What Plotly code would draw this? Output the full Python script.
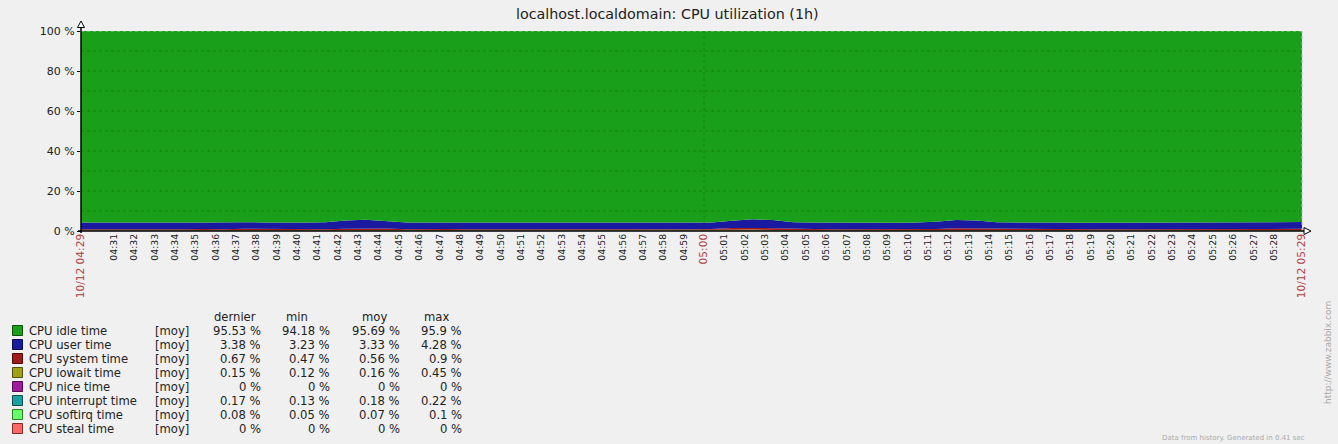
import pandas as pd
import plotly.graph_objects as go

# ---------------- data (percent, one sample per minute from 04:29:23) ----------------
START = "2014-10-12 04:29:23"
N_POINTS = 61

SERIES_NAMES = ["CPU idle time", "CPU user time", "CPU system time", "CPU iowait time",
                "CPU nice time", "CPU interrupt time", "CPU softirq time", "CPU steal time"]
SERIES_COLORS = ["#1A9F1A", "#1A1AA0", "#A01A1A", "#A0A01A",
                 "#A01AA0", "#1AA0A0", "#66FF66", "#FF6666"]
SERIES_BORDERS = ["#0A4F0A", "#0A0A50", "#500A0A", "#50500A",
                  "#500A50", "#0A5050", "#2A802A", "#802A2A"]

IDLE = [95.80, 95.86, 95.78, 95.80, 95.87, 95.79, 95.71, 95.83, 95.67, 95.69,
        95.83, 95.70, 95.67, 94.78, 94.43, 95.23, 95.79, 95.72, 95.73, 95.82,
        95.83, 95.85, 95.83, 95.86, 95.80, 95.81, 95.80, 95.83, 95.83, 95.79,
        95.84, 95.70, 94.91, 94.18, 94.56, 95.57, 95.70, 95.81, 95.80, 95.83,
        95.88, 95.70, 95.41, 94.44, 94.71, 95.68, 95.83, 95.84, 95.77, 95.84,
        95.83, 95.79, 95.81, 95.81, 95.84, 95.79, 95.80, 95.84, 95.78, 95.66,
        95.55]
USER = [3.30, 3.28, 3.31, 3.29, 3.27, 3.30, 3.24, 3.29, 3.23, 3.24,
        3.30, 3.25, 3.45, 4.05, 4.20, 3.55, 3.30, 3.24, 3.25, 3.28,
        3.30, 3.27, 3.29, 3.31, 3.30, 3.28, 3.32, 3.29, 3.30, 3.31,
        3.28, 3.25, 3.60, 4.28, 3.95, 3.30, 3.24, 3.28, 3.31, 3.29,
        3.23, 3.25, 3.55, 4.20, 4.00, 3.40, 3.30, 3.29, 3.31, 3.28,
        3.30, 3.32, 3.29, 3.30, 3.28, 3.31, 3.30, 3.29, 3.32, 3.30,
        3.38]
SYSTEM = [0.50, 0.49, 0.52, 0.50, 0.48, 0.51, 0.65, 0.50, 0.70, 0.68,
          0.50, 0.65, 0.50, 0.70, 0.85, 0.80, 0.52, 0.68, 0.62, 0.50,
          0.49, 0.51, 0.50, 0.48, 0.50, 0.52, 0.49, 0.50, 0.47, 0.51,
          0.50, 0.65, 0.90, 0.85, 0.75, 0.70, 0.68, 0.52, 0.50, 0.49,
          0.51, 0.65, 0.60, 0.85, 0.82, 0.52, 0.50, 0.49, 0.51, 0.50,
          0.48, 0.50, 0.52, 0.49, 0.50, 0.51, 0.50, 0.49, 0.52, 0.65,
          0.67]
IOWAIT = [0.15, 0.14, 0.13, 0.15, 0.14, 0.16, 0.14, 0.13, 0.15, 0.14,
          0.12, 0.15, 0.14, 0.18, 0.20, 0.15, 0.14, 0.13, 0.15, 0.14,
          0.15, 0.13, 0.14, 0.15, 0.14, 0.13, 0.15, 0.14, 0.15, 0.14,
          0.13, 0.16, 0.30, 0.40, 0.45, 0.18, 0.15, 0.14, 0.13, 0.15,
          0.14, 0.15, 0.16, 0.20, 0.18, 0.15, 0.14, 0.13, 0.15, 0.14,
          0.15, 0.14, 0.13, 0.15, 0.14, 0.15, 0.14, 0.13, 0.15, 0.14,
          0.15]
NICE = [0.0, 0.0, 0.0, 0.0, 0.0, 0.0, 0.0, 0.0, 0.0, 0.0,
        0.0, 0.0, 0.0, 0.0, 0.0, 0.0, 0.0, 0.0, 0.0, 0.0,
        0.0, 0.0, 0.0, 0.0, 0.0, 0.0, 0.0, 0.0, 0.0, 0.0,
        0.0, 0.0, 0.0, 0.0, 0.0, 0.0, 0.0, 0.0, 0.0, 0.0,
        0.0, 0.0, 0.0, 0.0, 0.0, 0.0, 0.0, 0.0, 0.0, 0.0,
        0.0, 0.0, 0.0, 0.0, 0.0, 0.0, 0.0, 0.0, 0.0, 0.0,
        0.0]
INTERRUPT = [0.18, 0.17, 0.19, 0.18, 0.17, 0.18, 0.19, 0.18, 0.17, 0.18,
             0.19, 0.18, 0.17, 0.20, 0.22, 0.19, 0.18, 0.17, 0.18, 0.19,
             0.18, 0.17, 0.18, 0.13, 0.18, 0.19, 0.18, 0.17, 0.18, 0.19,
             0.18, 0.17, 0.20, 0.20, 0.20, 0.18, 0.17, 0.18, 0.19, 0.18,
             0.17, 0.18, 0.20, 0.21, 0.20, 0.18, 0.17, 0.18, 0.19, 0.18,
             0.17, 0.18, 0.19, 0.18, 0.17, 0.18, 0.19, 0.18, 0.17, 0.18,
             0.17]
SOFTIRQ = [0.07, 0.06, 0.07, 0.08, 0.07, 0.06, 0.07, 0.07, 0.08, 0.07,
           0.06, 0.07, 0.07, 0.09, 0.10, 0.08, 0.07, 0.06, 0.07, 0.07,
           0.05, 0.07, 0.06, 0.07, 0.08, 0.07, 0.06, 0.07, 0.07, 0.06,
           0.07, 0.07, 0.09, 0.09, 0.09, 0.07, 0.06, 0.07, 0.07, 0.06,
           0.07, 0.07, 0.08, 0.10, 0.09, 0.07, 0.06, 0.07, 0.07, 0.06,
           0.07, 0.07, 0.06, 0.07, 0.07, 0.06, 0.07, 0.07, 0.06, 0.07,
           0.08]
STEAL = [0.0, 0.0, 0.0, 0.0, 0.0, 0.0, 0.0, 0.0, 0.0, 0.0,
         0.0, 0.0, 0.0, 0.0, 0.0, 0.0, 0.0, 0.0, 0.0, 0.0,
         0.0, 0.0, 0.0, 0.0, 0.0, 0.0, 0.0, 0.0, 0.0, 0.0,
         0.0, 0.0, 0.0, 0.0, 0.0, 0.0, 0.0, 0.0, 0.0, 0.0,
         0.0, 0.0, 0.0, 0.0, 0.0, 0.0, 0.0, 0.0, 0.0, 0.0,
         0.0, 0.0, 0.0, 0.0, 0.0, 0.0, 0.0, 0.0, 0.0, 0.0,
         0.0]

SERIES_VALUES = [IDLE, USER, SYSTEM, IOWAIT, NICE, INTERRUPT, SOFTIRQ, STEAL]

# legend table values (as displayed)
COL_HEADERS = ["dernier", "min", "moy", "max"]
LAST = ["95.53 %", "3.38 %", "0.67 %", "0.15 %", "0 %", "0.17 %", "0.08 %", "0 %"]
MINS = ["94.18 %", "3.23 %", "0.47 %", "0.12 %", "0 %", "0.13 %", "0.05 %", "0 %"]
AVGS = ["95.69 %", "3.33 %", "0.56 %", "0.16 %", "0 %", "0.18 %", "0.07 %", "0 %"]
MAXS = ["95.9 %", "4.28 %", "0.9 %", "0.45 %", "0 %", "0.22 %", "0.1 %", "0 %"]

Y_TICKS = [0, 20, 40, 60, 80, 100]
TITLE = "localhost.localdomain: CPU utilization (1h)"

# ---------------- time axis ----------------
TIMES = pd.date_range(START, periods=N_POINTS, freq="1min")
TIME_STR = [t.strftime("%Y-%m-%d %H:%M:%S") for t in TIMES]

RED = "#B03C3C"
RED_STYLE = f"color:{RED};font-size:10.6px"
minute_ticks = pd.date_range("2014-10-12 04:31:00", "2014-10-12 05:28:00", freq="1min")
tickvals = [TIME_STR[0]] + [t.strftime("%Y-%m-%d %H:%M:%S") for t in minute_ticks] + [TIME_STR[-1]]
ticktext = [f'<span style="{RED_STYLE}">10/12 {TIMES[0].strftime("%H:%M")}</span>']
for t in minute_ticks:
    lab = t.strftime("%H:%M")
    if t.minute == 0:
        ticktext.append(f'<span style="{RED_STYLE}">{lab}</span>')
    else:
        ticktext.append(lab)
ticktext.append(f'<span style="{RED_STYLE}">10/12 {TIMES[-1].strftime("%H:%M")}</span>')

# ---------------- geometry helpers (pixel -> paper) ----------------
W, H = 1338, 444
L, R, T, B = 81, 1302, 31, 231


def px(x):
    return (x - L) / (R - L)


def py(y):
    return (B - y) / (B - T)


FONT = "DejaVu Sans"
TXT = "#222222"
GRID = "rgba(0,50,0,0.22)"
LEG_SIZE = 11.6

fig = go.Figure()

# stacked areas: bottom-up order is reversed legend order
for name, vals, col in reversed(list(zip(SERIES_NAMES, SERIES_VALUES, SERIES_COLORS))):
    fig.add_trace(go.Scatter(
        x=TIME_STR, y=vals, name=name, stackgroup="cpu", mode="lines",
        line=dict(width=0, color=col), fillcolor=col,
        showlegend=False, hoverinfo="skip",
    ))

shapes = []
# horizontal dotted grid every 10 %
for g in range(10, 100, 10):
    shapes.append(dict(type="line", xref="paper", yref="y", x0=0, x1=1, y0=g, y1=g,
                       line=dict(color=GRID, width=1, dash="dot"), layer="above"))
# top border and right border (grey dotted)
shapes.append(dict(type="line", xref="paper", yref="y", x0=0, x1=1, y0=100, y1=100,
                   line=dict(color="#b8b8b8", width=1, dash="dot"), layer="above"))
shapes.append(dict(type="line", xref="paper", yref="paper", x0=1, x1=1, y0=0, y1=1,
                   line=dict(color="#b8b8b8", width=1, dash="dot"), layer="above"))
# vertical dotted line at 05:00
shapes.append(dict(type="line", xref="x", yref="paper", x0="2014-10-12 05:00:00", x1="2014-10-12 05:00:00",
                   y0=0, y1=1, line=dict(color=GRID, width=1, dash="dot"), layer="above"))
# axis lines
shapes.append(dict(type="line", xref="paper", yref="paper", x0=0, x1=0, y0=py(233), y1=py(25),
                   line=dict(color="black", width=1.5), layer="above"))
shapes.append(dict(type="line", xref="paper", yref="paper", x0=px(78), x1=px(1305), y0=0, y1=0,
                   line=dict(color="black", width=1.5), layer="above"))
# arrows
shapes.append(dict(type="path", xref="paper", yref="paper",
                   path=f"M {px(77.5)} {py(27.5)} L {px(84.5)} {py(27.5)} L {px(81)} {py(21)} Z",
                   fillcolor="white", line=dict(color="black", width=1), layer="above"))
shapes.append(dict(type="path", xref="paper", yref="paper",
                   path=f"M {px(1304)} {py(227.5)} L {px(1304)} {py(234.5)} L {px(1311)} {py(231)} Z",
                   fillcolor="white", line=dict(color="black", width=1), layer="above"))

annotations = []
# title
annotations.append(dict(text=TITLE, xref="paper", yref="paper", x=px(667), y=py(14),
                        xanchor="center", yanchor="middle", showarrow=False,
                        font=dict(family=FONT, size=14.3, color=TXT)))

# legend table
ROW0, ROW_STEP = 330.5, 14.0
HEADER_Y = 316.5
for hdr, cx in zip(COL_HEADERS, [235, 297, 374, 436]):
    annotations.append(dict(text=hdr, xref="paper", yref="paper", x=px(cx), y=py(HEADER_Y),
                            xanchor="center", yanchor="middle", showarrow=False,
                            font=dict(family=FONT, size=LEG_SIZE, color=TXT)))
for i, name in enumerate(SERIES_NAMES):
    yy = ROW0 + i * ROW_STEP
    shapes.append(dict(type="rect", xref="paper", yref="paper",
                       x0=px(12.5), x1=px(22.5), y0=py(yy + 5), y1=py(yy - 5),
                       fillcolor=SERIES_COLORS[i], line=dict(color=SERIES_BORDERS[i], width=1)))
    annotations.append(dict(text=name, xref="paper", yref="paper", x=px(26.5), y=py(yy),
                            xanchor="left", yanchor="middle", showarrow=False,
                            font=dict(family=FONT, size=LEG_SIZE, color=TXT)))
    annotations.append(dict(text="[moy]", xref="paper", yref="paper", x=px(153), y=py(yy),
                            xanchor="left", yanchor="middle", showarrow=False,
                            font=dict(family=FONT, size=LEG_SIZE, color=TXT)))
    for col_vals, rx in zip([LAST, MINS, AVGS, MAXS], [263, 332, 402, 464]):
        annotations.append(dict(text=col_vals[i], xref="paper", yref="paper", x=px(rx), y=py(yy),
                                xanchor="right", yanchor="middle", showarrow=False,
                                font=dict(family=FONT, size=LEG_SIZE, color=TXT)))

# watermark and footer
annotations.append(dict(text="http://www.zabbix.com", xref="paper", yref="paper", x=px(1328), y=py(353),
                        xanchor="center", yanchor="middle", textangle=-90, showarrow=False,
                        font=dict(family=FONT, size=9, color="#aaaaaa")))
annotations.append(dict(text="Data from history. Generated in 0.41 sec", xref="paper", yref="paper",
                        x=px(1160), y=py(444), xanchor="left", yanchor="bottom", showarrow=False,
                        font=dict(family=FONT, size=7, color="#aaaaaa")))

fig.update_layout(
    width=W, height=H,
    margin=dict(l=L, r=W - R, t=T, b=H - B, pad=0),
    paper_bgcolor="#f0f0f0", plot_bgcolor="#f0f0f0",
    template="none",
    showlegend=False,
    shapes=shapes, annotations=annotations,
    font=dict(family=FONT, color=TXT),
    xaxis=dict(type="date", range=[TIME_STR[0], TIME_STR[-1]],
               tickmode="array", tickvals=tickvals, ticktext=ticktext,
               tickangle=-90, tickfont=dict(family=FONT, size=9.3, color=TXT),
               showgrid=False, zeroline=False, showline=False, ticks="",
               automargin=False, fixedrange=True),
    yaxis=dict(range=[0, 100], tickmode="array", tickvals=Y_TICKS,
               ticktext=[f"{v} %" for v in Y_TICKS],
               tickfont=dict(family=FONT, size=11, color=TXT),
               ticks="outside", ticklen=3, tickcolor="black", tickwidth=1,
               showgrid=False, zeroline=False, showline=False,
               automargin=False, fixedrange=True),
)

fig.write_html(
    "out.html",
    config={"displayModeBar": False},
    post_script="document.body.style.margin='0';document.body.style.padding='0';"
                "document.body.style.background='#f0f0f0';document.body.style.overflow='hidden';",
)
